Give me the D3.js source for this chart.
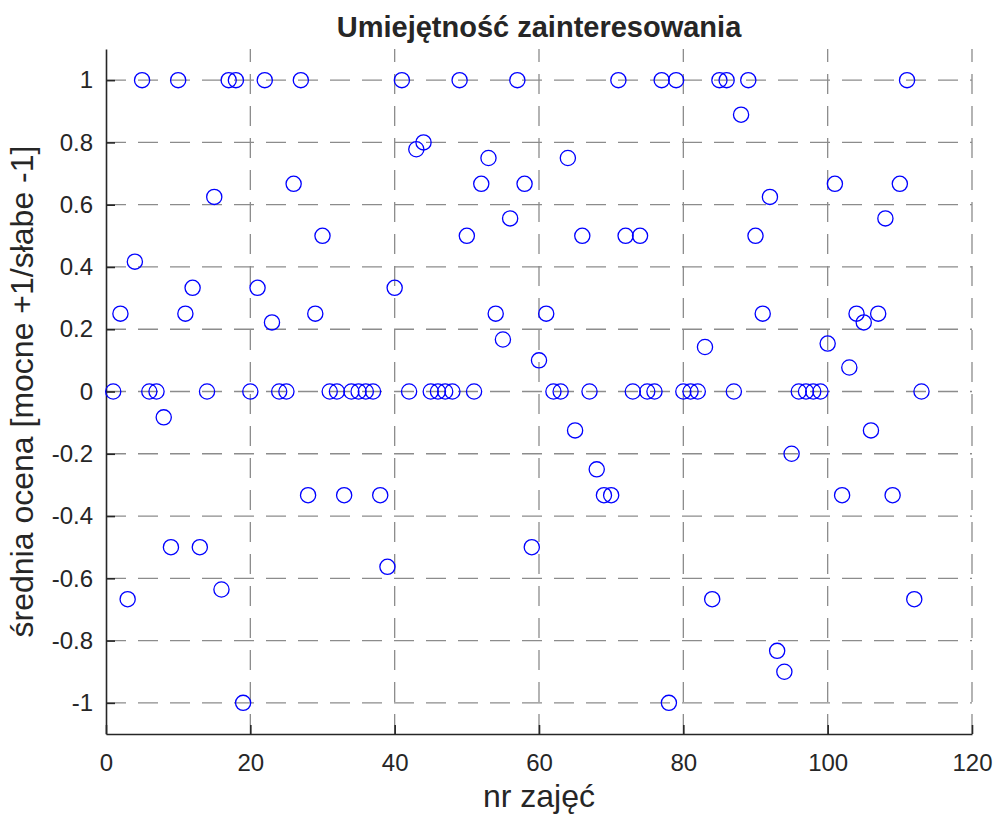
<!DOCTYPE html>
<html>
<head>
<meta charset="utf-8">
<script src="https://cdn.jsdelivr.net/npm/d3@7"></script>
<style>
  html, body { margin: 0; padding: 0; background: #fff; }
  svg { display: block; }
  text { font-family: "Liberation Sans", Arial, Helvetica, sans-serif; fill: #262626; }
</style>
</head>
<body>
<svg id="chart" width="997" height="816"></svg>
<script>
// Lesson numbers and mean scores (strong +1 / weak -1)
const lessons = d3.range(1, 114);
const scores = [
  0, 0.25, -0.667, 0.417, 1, 0, 0, -0.083, -0.5, 1,
  0.25, 0.333, -0.5, 0, 0.625, -0.636, 1, 1, -1, 0,
  0.333, 1, 0.222, 0, 0, 0.667, 1, -0.333, 0.25, 0.5,
  0, 0, -0.333, 0, 0, 0, 0, -0.333, -0.563, 0.333,
  1, 0, 0.778, 0.8, 0, 0, 0, 0, 1, 0.5,
  0, 0.667, 0.75, 0.25, 0.167, 0.556, 1, 0.667, -0.5, 0.1,
  0.25, 0, 0, 0.75, -0.125, 0.5, 0, -0.25, -0.333, -0.333,
  1, 0.5, 0, 0.5, 0, 0, 1, -1, 1, 0,
  0, 0, 0.143, -0.667, 1, 1, 0, 0.889, 1, 0.5,
  0.25, 0.625, -0.833, -0.9, -0.2, 0, 0, 0, 0, 0.154,
  0.667, -0.333, 0.077, 0.25, 0.222, -0.125, 0.25, 0.556, -0.333, 0.667,
  1, -0.667, 0
];
const xTicks = [0, 20, 40, 60, 80, 100, 120];
const yTicks = [-1, -0.8, -0.6, -0.4, -0.2, 0, 0.2, 0.4, 0.6, 0.8, 1];
const yTickLabels = ["-1", "-0.8", "-0.6", "-0.4", "-0.2", "0", "0.2", "0.4", "0.6", "0.8", "1"];

const titleText = "Umiejętność zainteresowania";
const xLabel = "nr zajęć";
const yLabel = "średnia ocena [mocne +1/słabe -1]";

const margin = { left: 106, right: 25, top: 49, bottom: 82 };
const W = 997, H = 816;
const svg = d3.select("#chart");

const x = d3.scaleLinear().domain([0, 120]).range([margin.left, W - margin.right]);
const y = d3.scaleLinear().domain([-1.1, 1.1]).range([H - margin.bottom, margin.top]);

// dashed grid
const grid = svg.append("g")
  .attr("stroke", "#8c8c8c")
  .attr("stroke-width", 1.3)
  .attr("stroke-dasharray", "20,12");
grid.selectAll("line.h").data(yTicks).join("line")
  .attr("class", "h")
  .attr("x1", x(0)).attr("x2", x(120))
  .attr("y1", d => y(d)).attr("y2", d => y(d));
grid.selectAll("line.v").data(xTicks.filter(d => d > 0)).join("line")
  .attr("class", "v")
  .attr("x1", d => x(d)).attr("x2", d => x(d))
  .attr("y1", y(-1.1)).attr("y2", y(1.1));

// axes
const xAxis = svg.append("g")
  .attr("transform", `translate(0,${y(-1.1)})`)
  .call(d3.axisBottom(x).tickValues(xTicks).tickSizeInner(-9).tickSizeOuter(0).tickPadding(20)
    .tickFormat(d => String(d)));
const yAxis = svg.append("g")
  .attr("transform", `translate(${x(0)},0)`)
  .call(d3.axisLeft(y).tickValues(yTicks).tickSizeInner(-9).tickSizeOuter(0).tickPadding(13)
    .tickFormat((d, i) => yTickLabels[i]));

[xAxis, yAxis].forEach(a => {
  a.select(".domain").attr("stroke", "#262626").attr("stroke-width", 1.6);
  a.selectAll(".tick line").attr("stroke", "#262626").attr("stroke-width", 1.6);
  a.selectAll(".tick text").attr("fill", "#262626").style("font-size", "24px")
    .style("font-family", "'Liberation Sans', Arial, sans-serif");
});
xAxis.selectAll(".tick text").attr("dy", "0.71em");

// markers
svg.append("g").selectAll("circle").data(lessons).join("circle")
  .attr("cx", (d, i) => x(d))
  .attr("cy", (d, i) => y(scores[i]))
  .attr("r", 7.6)
  .attr("fill", "none")
  .attr("stroke", "#0000ff")
  .attr("stroke-width", 1.3);

// title and labels
svg.append("text")
  .attr("x", (x(0) + x(120)) / 2).attr("y", 37)
  .attr("text-anchor", "middle")
  .style("font-size", "29px").style("font-weight", "bold")
  .attr("fill", "#000")
  .text(titleText);

svg.append("text")
  .attr("x", (x(0) + x(120)) / 2).attr("y", 807)
  .attr("text-anchor", "middle")
  .style("font-size", "32px")
  .text(xLabel);

svg.append("text")
  .attr("transform", `translate(33,${(y(-1.1) + y(1.1)) / 2}) rotate(-90)`)
  .attr("text-anchor", "middle")
  .style("font-size", "32px")
  .text(yLabel);
</script>
</body>
</html>
